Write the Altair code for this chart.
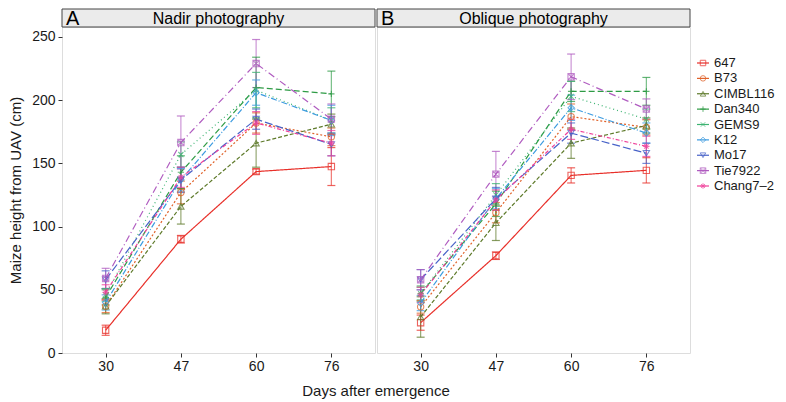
import altair as alt
import pandas as pd

days = ["30", "47", "60", "76"]
genotypes = ["647", "B73", "CIMBL116", "Dan340", "GEMS9", "K12", "Mo17", "Tie7922", "Chang7\u20132"]
colors = ["#E8302A", "#E0622A", "#5E7A2A", "#2E9B45", "#3CB371", "#3C9BE0", "#4863C8", "#B05CC0", "#F0409A"]
shapes = [
    "square",
    "circle",
    "triangle-up",
    "M-1,0H1M0,-1V1",
    "M-0.8,-0.8L0.8,0.8M-0.8,0.8L0.8,-0.8",
    "diamond",
    "triangle-down",
    "M-1,-1H1V1H-1ZM-1,-1L1,1M-1,1L1,-1",
    "M-1,0H1M0,-1V1M-0.7,-0.7L0.7,0.7M-0.7,0.7L0.7,-0.7",
]
dashes = [[1, 0], [2, 2], [4, 2], [6, 3], [1, 3], [6, 2, 1, 2], [8, 3], [7, 3, 1, 3], [4, 2, 1, 2]]

nadir_mean = {
    "647": [18, 90, 143.5, 147.5],
    "B73": [37, 127, 182, 171],
    "CIMBL116": [37, 116, 166, 181],
    "Dan340": [44, 143, 210, 205],
    "GEMS9": [46, 157, 208, 184],
    "K12": [40, 137, 206, 184],
    "Mo17": [58, 137, 185, 165],
    "Tie7922": [59, 166.5, 229, 185],
    "Chang7\u20132": [48, 139, 182, 166],
}
nadir_sd = {
    "647": [4, 3, 2, 15],
    "B73": [5, 9, 8, 7],
    "CIMBL116": [6, 14, 19, 8],
    "Dan340": [6, 13, 24, 18],
    "GEMS9": [5, 10, 14, 10],
    "K12": [6, 9, 10, 12],
    "Mo17": [7, 10, 8, 9],
    "Tie7922": [8, 21, 19, 12],
    "Chang7\u20132": [6, 8, 9, 10],
}
oblique_mean = {
    "647": [24, 77, 140.5, 144.5],
    "B73": [36.5, 111, 187, 178.5],
    "CIMBL116": [28.5, 103, 166, 180],
    "Dan340": [47, 118, 207, 207],
    "GEMS9": [47, 125, 203, 185],
    "K12": [39.5, 122, 194, 174],
    "Mo17": [58, 122, 174, 158],
    "Tie7922": [58, 141.5, 218.5, 193],
    "Chang7\u20132": [46, 121, 177, 163.5],
}
oblique_sd = {
    "647": [6, 3, 6, 10],
    "B73": [5, 8, 10, 6],
    "CIMBL116": [16, 14, 12, 6],
    "Dan340": [6, 10, 8, 11],
    "GEMS9": [5, 9, 12, 8],
    "K12": [6, 8, 10, 8],
    "Mo17": [8, 9, 8, 8],
    "Tie7922": [8, 18, 18, 8],
    "Chang7\u20132": [6, 8, 8, 8],
}

W = 313
H = 326
STRIP = 18
FONT = "Liberation Sans"
BORDER = "#454545"


def build_df(mean, sd):
    rows = []
    for g in genotypes:
        for d, m, s in zip(days, mean[g], sd[g]):
            rows.append({"genotype": g, "day": d, "height": m, "lo": m - s, "hi": m + s})
    return pd.DataFrame(rows)


color_enc = alt.Color("genotype:N", scale=alt.Scale(domain=genotypes, range=colors), legend=None)
shape_enc = alt.Shape("genotype:N", scale=alt.Scale(domain=genotypes, range=shapes), legend=None)
dash_enc = alt.StrokeDash("genotype:N", scale=alt.Scale(domain=genotypes, range=dashes), legend=None)


def panel(df, letter, title, show_y, add_xtitle):
    x_enc = alt.X(
        "day:O",
        sort=days,
        scale=alt.Scale(type="point", padding=0.58),
        axis=alt.Axis(title=None, labelAngle=0, domain=False, tickColor="#333333", tickSize=4,
                      labelFontSize=14, labelColor="#1a1a1a", labelPadding=2),
    )
    if show_y:
        y_axis = alt.Axis(title="Maize height from UAV (cm)", values=[0, 50, 100, 150, 200, 250],
                          domain=False, grid=False, tickColor="#333333", tickSize=4, labelFontSize=14,
                          labelColor="#1a1a1a", titleFontSize=15, titleFontWeight="normal",
                          titleColor="#1a1a1a", titlePadding=8, labelPadding=3)
    else:
        y_axis = None
    yscale = alt.Scale(domain=[0, 257.9], nice=False)
    base = alt.Chart(df)
    rules = base.mark_rule(strokeWidth=1.2, opacity=0.65).encode(
        x=x_enc, y=alt.Y("lo:Q", scale=yscale, axis=y_axis), y2="hi:Q", color=color_enc)
    cap_lo = base.mark_tick(orient="horizontal", size=8, thickness=1.2, opacity=0.75).encode(
        x=x_enc, y=alt.Y("lo:Q", scale=yscale, axis=y_axis), color=color_enc)
    cap_hi = base.mark_tick(orient="horizontal", size=8, thickness=1.2, opacity=0.75).encode(
        x=x_enc, y=alt.Y("hi:Q", scale=yscale, axis=y_axis), color=color_enc)
    lines = base.mark_line(strokeWidth=1.2).encode(
        x=x_enc, y=alt.Y("height:Q", scale=yscale, axis=y_axis), color=color_enc, strokeDash=dash_enc)
    points = base.mark_point(filled=False, size=40, strokeWidth=1.1, opacity=0.75).encode(
        x=x_enc, y=alt.Y("height:Q", scale=yscale, axis=y_axis), color=color_enc, shape=shape_enc)

    strip_df = pd.DataFrame({"letter": [letter], "title": [title]})
    sbase = alt.Chart(strip_df)
    strip_rect = sbase.mark_rect(fill="#EBEBEB", stroke=BORDER, strokeWidth=1).encode(
        x=alt.value(0), x2=alt.value(W), y=alt.value(-STRIP), y2=alt.value(0))
    strip_letter = sbase.mark_text(align="left", baseline="middle", fontSize=20, font=FONT, color="#000").encode(
        x=alt.value(4), y=alt.value(-STRIP / 2 + 1), text="letter:N")
    strip_title = sbase.mark_text(align="center", baseline="middle", fontSize=16, font=FONT, color="#000").encode(
        x=alt.value(W / 2), y=alt.value(-STRIP / 2 + 1), text="title:N")
    layers = [strip_rect, strip_letter, strip_title, rules, cap_lo, cap_hi, lines, points]
    if add_xtitle:
        xt = alt.Chart(pd.DataFrame({"t": ["Days after emergence"]})).mark_text(
            align="center", baseline="middle", fontSize=15, font=FONT, color="#1a1a1a").encode(
            x=alt.value(W + 1), y=alt.value(H + 38), text="t:N")
        layers.append(xt)
    return alt.layer(*layers).properties(width=W, height=H)


pA = panel(build_df(nadir_mean, nadir_sd), "A", "Nadir photography", True, True)
pB = panel(build_df(oblique_mean, oblique_sd), "B", "Oblique photography", False, False)

leg_df = pd.DataFrame({"genotype": genotypes})
ly = alt.Y("genotype:N", sort=genotypes, scale=alt.Scale(type="point", range=[36, 159], padding=0), axis=None)
lbase = alt.Chart(leg_df)
leg_line = lbase.mark_rule(strokeWidth=1.2).encode(
    x=alt.value(5), x2=alt.value(17), y=ly, color=color_enc)
leg_pt = lbase.mark_point(filled=False, size=30, strokeWidth=1, opacity=0.75).encode(
    x=alt.value(11), y=ly, color=color_enc, shape=shape_enc)
leg_txt = lbase.mark_text(align="left", baseline="middle", fontSize=13, font=FONT, color="#1a1a1a").encode(
    x=alt.value(22), y=ly, text="genotype:N")
legend = alt.layer(leg_line, leg_pt, leg_txt).properties(
    width=60, height=H, view=alt.ViewBackground(stroke="transparent"))

chart = alt.hconcat(pA, pB, legend, spacing=2, bounds="flush").properties(
    padding={"left": 0, "top": 0, "right": 0, "bottom": 0}
).configure_view(stroke=BORDER, strokeWidth=1).configure(font=FONT).resolve_scale(
    color="shared", shape="shared", strokeDash="shared")

chart.save("out.html", embed_options={"renderer": "svg", "actions": False})
